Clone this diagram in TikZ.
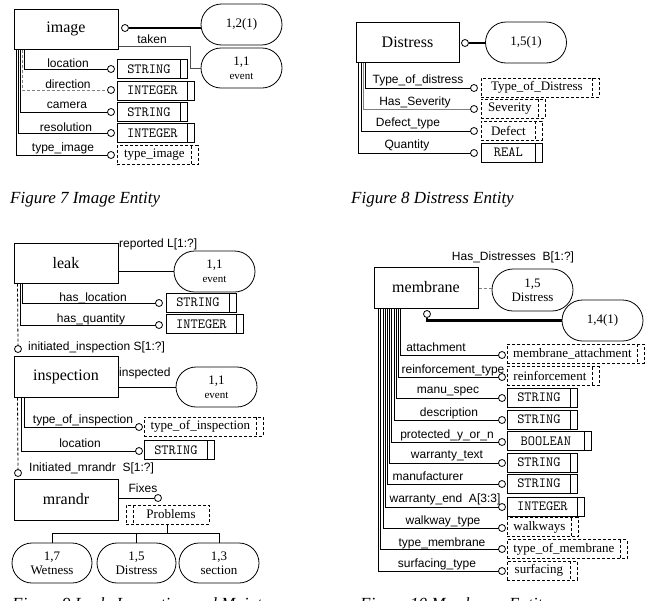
\documentclass[tikz,border=0pt]{standalone}
\usepackage{fontspec}
\setmainfont{Liberation Serif}
\setsansfont{Liberation Sans}
\usetikzlibrary{shapes.misc}
\begin{document}
\begin{tikzpicture}[x=1pt,y=-1pt,
 entity/.style={draw, line width=1pt, minimum width=104, minimum height=40, inner sep=0pt, font=\fontsize{16}{18}\selectfont},
 oval/.style={draw, rounded rectangle, fill=white, minimum width=81, minimum height=41, inner sep=0pt, align=center, font=\fontsize{13}{15}\selectfont, line width=0.8pt},
 circ/.style={circle, draw, fill=white, minimum size=7, inner sep=0pt, line width=0.8pt},
 lbl/.style={inner sep=0pt, font=\sffamily\fontsize{12}{14}\selectfont},
 conn/.style={line width=0.8pt},
 rel/.style={line width=2.4pt},
 dsh/.style={dash pattern=on 3pt off 2pt},
 tbox/.style={draw, anchor=west, line width=0.8pt, minimum width=#1, minimum height=19, inner sep=0pt, font=\ttfamily\fontsize{14}{15}\selectfont, execute at end node={\hspace{7pt}}, path picture={\draw[line width=0.8pt] ([xshift=-7pt]path picture bounding box.north east) -- ([xshift=-7pt]path picture bounding box.south east);}},
 dbox/.style={draw, dsh, anchor=west, line width=0.8pt, minimum width=#1, minimum height=19, inner sep=0pt, font=\fontsize{13}{14}\selectfont, execute at end node={\hspace{7pt}}, path picture={\draw[line width=0.8pt, dsh] ([xshift=-7pt]path picture bounding box.north east) -- ([xshift=-7pt]path picture bounding box.south east);}},
 dboxl/.style={draw, dsh, line width=0.8pt, minimum width=#1, minimum height=19, inner sep=0pt, font=\fontsize{13}{14}\selectfont, path picture={\draw[line width=0.8pt, dsh] ([xshift=7pt]path picture bounding box.north west) -- ([xshift=7pt]path picture bounding box.south west);}},
 figcap/.style={anchor=base west, inner sep=0pt, font=\itshape\fontsize{17}{20}\selectfont}
]
\useasboundingbox (0,0) rectangle (647,600);
\fill[white] (0,0) rectangle (647,600);

% ---------------- Figure 7 ----------------
\node[entity] (img) at (66,29) {image};
\node[circ] (c7) at (125,28) {};
\node[oval] (o7a) at (241.5,24.5) {1,2(1)};
\node[oval, minimum height=40] (o7b) at (241.5,68) {1,1\\[-1pt]{\fontsize{11}{12}\selectfont event}};
\draw[rel] (c7.east) -- (c7.east -| o7a.west);
\draw[conn, gray!60!black] ([yshift=-17pt]img.east) -- ++(72,0) |- (o7b.west);
\node[lbl] (l7t) at (152,39) {taken};
\draw[conn] ([xshift=11pt]img.south west) |- (111,69);
\draw[conn, dsh, gray] ([xshift=9pt]img.south west) |- (111,90);
\draw[conn] ([xshift=7pt]img.south west) |- (111,112);
\draw[conn] ([xshift=5pt]img.south west) |- (111,133);
\draw[conn] ([xshift=3pt]img.south west) |- (111,155);
\node[circ] (c7a) at (111,69) {};
\node[circ] (c7b) at (111,90) {};
\node[circ] (c7c) at (111,112) {};
\node[circ] (c7d) at (111,133) {};
\node[circ] (c7e) at (111,155) {};
\node[tbox=70] (t7a) at (117,69) {STRING};
\node[tbox=77] (t7b) at (117,90.5) {INTEGER};
\node[tbox=70] (t7c) at (117,112) {STRING};
\node[tbox=77] (t7d) at (117,133) {INTEGER};
\node[dbox=81] (t7e) at (117,155) {type\_image};
\node[lbl] (l7a) at (68,63) {location};
\node[lbl] (l7b) at (68,84) {direction};
\node[lbl] (l7c) at (67,105) {camera};
\node[lbl] (l7d) at (66,127) {resolution};
\node[lbl] (l7e) at (63,148) {type\_image};
\node[figcap] (cap7) at (10,203) {Figure 7 Image Entity};

% ---------------- Figure 8 ----------------
\node[entity, minimum width=103] (dis) at (407.5,42) {Distress};
\node[circ] (c8) at (465,43) {};
\node[oval] (o8) at (526,42.5) {1,5(1)};
\draw[rel] (c8.east) -- (c8.east -| o8.west);
\draw[conn] ([xshift=10pt]dis.south west) |- (474,88);
\draw[conn, gray] ([xshift=8pt]dis.south west) |- (474,109);
\draw[conn] ([xshift=6pt]dis.south west) |- (474,131);
\draw[conn] ([xshift=3pt]dis.south west) |- (474,153);
\node[circ] (c8a) at (474,88) {};
\node[circ] (c8b) at (474,109) {};
\node[circ] (c8c) at (474,131) {};
\node[circ] (c8d) at (474,153) {};
\node[dbox=118] (t8a) at (481,87.5) {Type\_of\_Distress};
\node[dbox=64] (t8b) at (481,108.5) {Severity};
\node[dbox=61] (t8c) at (481,130.5) {Defect};
\node[tbox=61] (t8d) at (481,152.5) {REAL};
\node[lbl] (l8a) at (418,80) {Type\_of\_distress};
\node[lbl] (l8b) at (415,102) {Has\_Severity};
\node[lbl] (l8c) at (408,123) {Defect\_type};
\node[lbl] (l8d) at (407,145) {Quantity};
\node[figcap] (cap8) at (351,203) {Figure 8 Distress Entity};

% ---------------- Figure 9 ----------------
\node[entity] (leak) at (66,263) {leak};
\node[oval] (o9a) at (214.5,271.5) {1,1\\[-1pt]{\fontsize{11}{12}\selectfont event}};
\draw[conn] (leak.east |- o9a.west) -- (o9a.west);
\node[lbl, anchor=west] (l9r) at (119,244) {reported L[1:?]};
\draw[conn] ([xshift=9pt]leak.south west) |- (159,303);
\draw[conn] ([xshift=7pt]leak.south west) |- (159,325);
\node[circ] (c9a) at (159,303) {};
\node[circ] (c9b) at (159,325) {};
\node[tbox=70] (t9a) at (166,302.5) {STRING};
\node[tbox=77] (t9b) at (166,324) {INTEGER};
\node[lbl] (l9a) at (93,298) {has\_location};
\node[lbl] (l9b) at (91,319) {has\_quantity};

\node[entity, minimum height=41] (insp) at (66,376.5) {inspection};
\node[circ] (ci1) at (18,349) {};
\draw[conn, dsh] ([xshift=4pt]leak.south west) -- (ci1.north);
\node[lbl, anchor=west] (l9i) at (28,347) {initiated\_inspection S[1:?]};
\node[oval, minimum height=40] (o9b) at (216.5,387) {1,1\\[-1pt]{\fontsize{11}{12}\selectfont event}};
\draw[conn] (insp.east |- o9b.west) -- (o9b.west);
\node[lbl, anchor=west] (l9p) at (119,373) {inspected};
\draw[conn] ([xshift=11pt]insp.south west) |- (139,427);
\draw[conn] ([xshift=8pt]insp.south west) |- (139,451);
\node[circ] (c9c) at (139,427) {};
\node[circ] (c9d) at (139,451) {};
\node[dbox=119] (t9c) at (144,426.5) {type\_of\_inspection};
\node[tbox=70] (t9d) at (144,450) {STRING};
\node[lbl] (l9c) at (83,420) {type\_of\_inspection};
\node[lbl] (l9d) at (80,443) {location};

\node[entity, minimum height=41] (mr) at (66,499.5) {mrandr};
\node[circ] (cm1) at (18,473) {};
\draw[conn, dsh] ([xshift=4pt]insp.south west) -- (cm1.north);
\node[lbl, anchor=west] (l9m) at (29,468) {Initiated\_mrandr\ \ S[1:?]};
\node[circ] (cf) at (158,498) {};
\draw[conn] (mr.east |- cf.west) -- (cf.west);
\node[lbl] (l9f) at (143,488) {Fixes};
\node[dboxl=83] (pb) at (167.5,514.5) {\hspace{7pt}Problems};
\node[oval, minimum width=80, minimum height=40] (w1) at (52,563) {1,7\\[-1pt]Wetness};
\node[oval, minimum width=79, minimum height=40] (w2) at (136.5,563) {1,5\\[-1pt]Distress};
\node[oval, minimum width=80, minimum height=40] (w3) at (219,563) {1,3\\[-1pt]section};
\coordinate (j9) at (167.5,533);
\draw[conn] (pb.south) -- (j9);
\draw[conn] (w1.north) |- (j9);
\draw[conn] (w3.north) |- (j9);
\draw[conn] (w2.north) -- (w2.north |- j9);
\node[figcap] (cap9) at (12,609) {Figure 9 Leak, Inspection and Maintenance};

% ---------------- Figure 10 ----------------
\node[lbl] (l10h) at (513,257) {Has\_Distresses\ \ B[1:?]};
\node[entity, minimum height=41] (mem) at (426,287.5) {membrane};
\node[oval, minimum height=42] (od1) at (532.5,290) {1,5\\[-1pt]Distress};
\draw[conn, dsh, gray] (mem.east |- 0,288) -- (od1.west |- 0,288);
\node[oval] (od2) at (602.5,320.5) {1,4(1)};
\node[circ] (cmem) at (427,314) {};
\draw[rel] (cmem.south) |- (od2.west);

\foreach \k/\yy in {10/355, 9/377, 8/398, 7/420, 6/442, 5/463, 4/484, 3/507, 2/528, 1/549, 0/571} {
  \draw[conn] ([xshift={5+2.2*\k}]mem.south west) |- (502,\yy);
  \node[circ] (cmk\k) at (502,\yy) {};
}
\node[dbox=137] (m1) at (507,353.5) {membrane\_attachment};
\node[dbox=92] (m2) at (507,376) {reinforcement};
\node[tbox=70] (m3) at (507,397.5) {STRING};
\node[tbox=70] (m4) at (507,419.5) {STRING};
\node[tbox=84] (m5) at (507,441) {BOOLEAN};
\node[tbox=70] (m6) at (507,462.5) {STRING};
\node[tbox=70] (m7) at (507,483.5) {STRING};
\node[tbox=77] (m8) at (507,506.5) {INTEGER};
\node[dbox=71] (m9) at (507,527) {walkways};
\node[dbox=120] (m10) at (507,549) {type\_of\_membrane};
\node[dbox=70] (m11) at (507,570.5) {surfacing};
\node[lbl] (n1) at (436,347) {attachment};
\node[lbl] (n2) at (453,370) {reinforcement\_type};
\node[lbl] (n3) at (448,392) {manu\_spec};
\node[lbl] (n4) at (449,413) {description};
\node[lbl] (n5) at (447,435) {protected\_y\_or\_n};
\node[lbl] (n6) at (447,456) {warranty\_text};
\node[lbl] (n7) at (428,476) {manufacturer};
\node[lbl] (n8) at (445,499) {warranty\_end\ \ A[3:3]};
\node[lbl] (n9) at (443,521) {walkway\_type};
\node[lbl] (n10) at (442,543) {type\_membrane};
\node[lbl] (n11) at (437,564) {surfacing\_type};
\node[figcap] (cap10) at (360,609) {Figure 10 Membrane Entity};
\end{tikzpicture}
\end{document}
